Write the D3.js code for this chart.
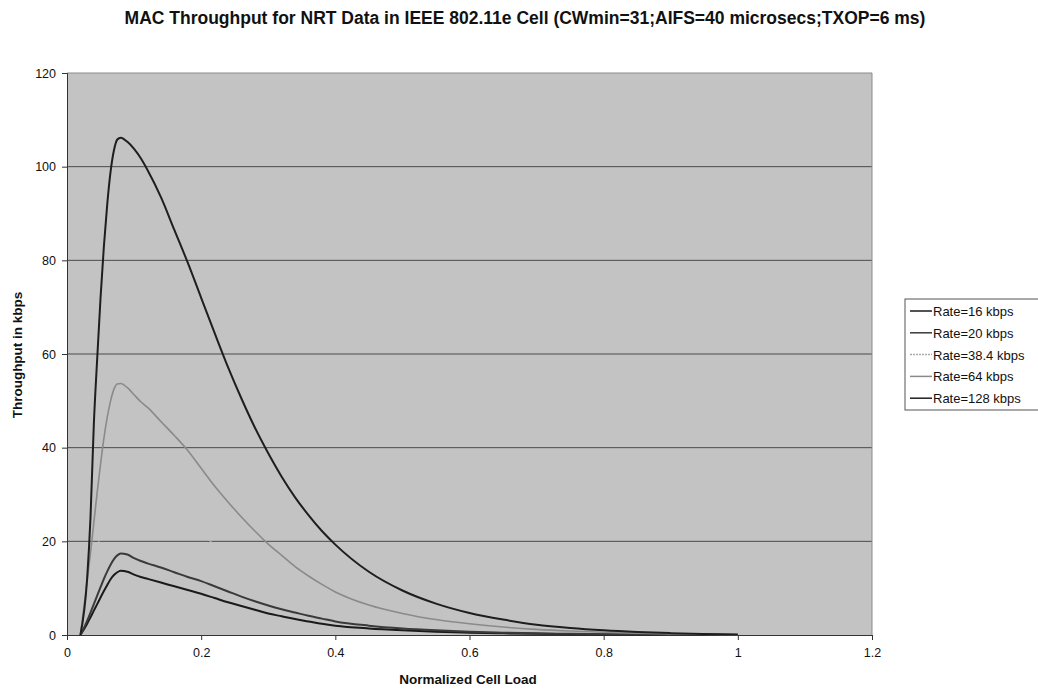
<!DOCTYPE html>
<html><head><meta charset="utf-8">
<script src="https://cdn.jsdelivr.net/npm/d3@7"></script>
<style>body{margin:0;background:#fff}svg{display:block}</style>
</head><body>
<svg id="c" width="1038" height="692"></svg>
<script>
const loads = [0.02,0.03,0.035,0.04,0.045,0.05,0.055,0.06,0.065,0.07,0.075,0.08,0.09,0.1,0.11,0.12,0.14,0.16,0.18,0.2,0.22,0.24,0.26,0.28,0.3,0.32,0.34,0.36,0.38,0.4,0.45,0.5,0.55,0.6,0.65,0.7,0.75,0.8,0.85,0.9,0.95,1.0];
const rate16  = [0,2.4,3.8,5.2,6.6,8,9.4,10.7,11.9,12.8,13.4,13.7,13.5,12.9,12.4,12.0,11.2,10.4,9.6,8.8,7.9,7.0,6.2,5.4,4.6,4.0,3.4,2.9,2.4,2.0,1.4,1.0,0.7,0.5,0.35,0.25,0.17,0.12,0.08,0.05,0.03,0.02];
const rate20  = [0,3,4.8,6.6,8.4,10.2,12,13.6,15,16.2,17,17.4,17.2,16.4,15.8,15.3,14.4,13.4,12.4,11.5,10.4,9.3,8.2,7.2,6.3,5.5,4.8,4.1,3.5,2.9,2.0,1.4,1.0,0.7,0.5,0.35,0.25,0.17,0.11,0.07,0.04,0.02];
const rate384 = [0,7,10.5,14,18,22,25.5,28,30.5,32,32.6,32.5,31.8,30.8,29.8,28.8,27,25.2,23.4,21.4,19.4,17.3,15.4,13.6,12,10.6,9.2,8,7,6,4.2,3,2.1,1.5,1.1,0.75,0.5,0.35,0.22,0.14,0.08,0.04];
const rate64  = [0,11.5,17.5,24,30.5,36.5,42,46.5,50,52.5,53.6,53.7,52.8,51.3,49.8,48.6,45.6,42.6,39.4,35.6,31.8,28.4,25.2,22.2,19.4,17,14.6,12.6,10.8,9.2,6.4,4.6,3.3,2.4,1.7,1.2,0.85,0.6,0.4,0.25,0.15,0.08];
const rate128 = [0,12,25,45,59,72,83,92,99,103.5,105.8,106.2,105.3,103.8,101.8,99.3,93.5,86.5,79.5,72,64.5,57.2,50.5,44.3,38.8,33.8,29.4,25.6,22.2,19.3,13.5,9.5,6.7,4.7,3.3,2.2,1.5,1.0,0.65,0.4,0.22,0.1];
const seriesNames = ["Rate=16 kbps","Rate=20 kbps","Rate=38.4 kbps","Rate=64 kbps","Rate=128 kbps"];
const seriesValues = [rate16, rate20, rate384, rate64, rate128];
const seriesColors = ["#1a1a1a","#3a3a3a","#c4c4c4","#8a8a8a","#1e1e1e"];
const legendColors = ["#1a1a1a","#3a3a3a","#aaaaaa","#8a8a8a","#1e1e1e"];
const xTicks = [0,0.2,0.4,0.6,0.8,1,1.2];
const yTicks = [0,20,40,60,80,100,120];
const title = "MAC Throughput for NRT Data in IEEE 802.11e Cell (CWmin=31;AIFS=40 microsecs;TXOP=6 ms)";

const svg = d3.select("#c");
const L=67, R=872, T=73, B=635;
const x = d3.scaleLinear().domain([0,1.2]).range([L,R]);
const y = d3.scaleLinear().domain([0,120]).range([B,T]);
const font = "Liberation Sans, Arial, sans-serif";

svg.append("rect").attr("x",L).attr("y",T).attr("width",R-L).attr("height",B-T).attr("fill","#c3c3c3");
svg.append("g").selectAll("line").data(yTicks.filter(d=>d>0)).join("line")
  .attr("x1",L).attr("x2",R).attr("y1",d=>y(d)).attr("y2",d=>y(d))
  .attr("stroke",d=>d===120?"#8a8a8a":"#4a4a4a").attr("stroke-width",1);
svg.append("line").attr("x1",R).attr("x2",R).attr("y1",T).attr("y2",B).attr("stroke","#8a8a8a");

const ya = svg.append("g").attr("transform",`translate(${L},0)`)
  .call(d3.axisLeft(y).tickValues(yTicks).tickSize(5).tickPadding(6).tickFormat(d3.format("d")));
const xa = svg.append("g").attr("transform",`translate(0,${B})`)
  .call(d3.axisBottom(x).tickValues(xTicks).tickSize(5).tickPadding(8).tickFormat(d=>String(d)));
[ya,xa].forEach(a=>{
  a.selectAll("path").attr("stroke","#333");
  a.selectAll("line").attr("stroke","#333");
  a.selectAll("text").attr("font-family",font).attr("font-size",12.5).attr("fill","#111");
});

const line = d3.line().x((d,i)=>x(loads[i])).y(d=>y(d)).curve(d3.curveMonotoneX);
const order = [2,0,1,3,4];
svg.append("g").selectAll("path").data(order).join("path")
  .attr("d",k=>line(seriesValues[k])).attr("fill","none")
  .attr("stroke",k=>seriesColors[k]).attr("stroke-width",k=>k===2?1:(k===3?1.6:2));

svg.append("text").attr("x",525).attr("y",24).attr("text-anchor","middle")
  .attr("font-family",font).attr("font-size",17.5).attr("font-weight","bold").attr("fill","#111").text(title);
svg.append("text").attr("x",468).attr("y",684).attr("text-anchor","middle")
  .attr("font-family",font).attr("font-size",13.5).attr("font-weight","bold").attr("fill","#111").text("Normalized Cell Load");
svg.append("text").attr("transform","translate(22,355) rotate(-90)").attr("text-anchor","middle")
  .attr("font-family",font).attr("font-size",13.5).attr("font-weight","bold").attr("fill","#111").text("Throughput in kbps");

const lg = svg.append("g");
lg.append("rect").attr("x",905).attr("y",299).attr("width",140).attr("height",111)
  .attr("fill","#fff").attr("stroke","#555").attr("stroke-width",1);
const items = lg.selectAll("g").data(seriesNames).join("g")
  .attr("transform",(d,i)=>`translate(0,${311+i*21.8})`);
items.append("line").attr("x1",910).attr("x2",932).attr("y1",0).attr("y2",0)
  .attr("stroke",(d,i)=>legendColors[i]).attr("stroke-width",1.5)
  .attr("stroke-dasharray",(d,i)=>i===2?"2,1":null);
items.append("text").attr("x",933).attr("y",5).attr("font-family",font).attr("font-size",13)
  .attr("fill","#111").text(d=>d);
</script>
</body></html>
